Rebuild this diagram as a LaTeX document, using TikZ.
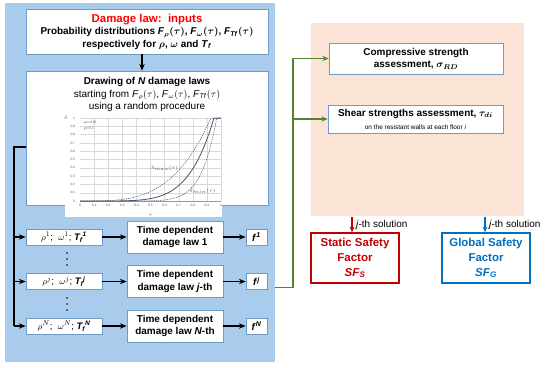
\documentclass[tikz,border=0pt]{standalone}
\usepackage{fontspec}
\setmainfont{Liberation Sans}
\usetikzlibrary{arrows.meta,calc}
\definecolor{FlowPanel}{HTML}{A9CBEC}
\definecolor{FlowPeach}{HTML}{FBE3D6}
\definecolor{FlowEdge}{HTML}{6F9CC6}
\definecolor{FlowGreen}{HTML}{548235}
\definecolor{FlowRed}{HTML}{C00000}
\definecolor{FlowTitle}{HTML}{FF0000}
\definecolor{FlowBlue}{HTML}{0070C0}
\definecolor{FlowGrid}{HTML}{D9D9D9}
\definecolor{FlowCurve}{HTML}{44546A}
\definecolor{FlowMuted}{HTML}{595959}
\tikzset{
  every node/.style={text=black},
  box/.style={draw=FlowEdge, line width=0.6pt, fill=white, align=center, inner sep=1pt, font=\fontsize{10}{12.5}\selectfont\bfseries\boldmath},
  panel/.style={draw=none, inner sep=0pt},
  flow/.style={-{Stealth[length=2.4mm,width=1.9mm]}, draw=black, line width=1.3pt},
  bus/.style={draw=black, line width=1.3pt},
  feed/.style={-{Stealth[length=2.2mm,width=1.8mm]}, draw=FlowGreen, line width=1.2pt},
  result/.style={line width=1.5pt, fill=white, align=center, minimum width=88bp, minimum height=50bp, font=\fontsize{11.5}{15}\selectfont\bfseries},
  pick/.style={-{Stealth[length=2mm,width=1.7mm]}, line width=1.4pt},
  note/.style={anchor=west, inner sep=0pt, font=\fontsize{10}{12}\selectfont},
  tick/.style={font=\fontsize{3.3}{4}\selectfont, text=FlowMuted, inner sep=0.5pt},
  curvelbl/.style={font=\fontsize{4.5}{5}\selectfont, text=FlowCurve, inner sep=0.5pt},
}

\begin{document}
\begin{tikzpicture}[x=1bp, y=-1bp]
  \useasboundingbox (0,0) rectangle (550,367);
  % Background panels
  \node[panel, fill=FlowPanel, minimum width=270bp, minimum height=359bp] (leftPanel) at (140,182.5) {};
  \node[panel, fill=FlowPeach, minimum width=213bp, minimum height=193bp] (peachPanel) at (417.5,119.5) {};
  % Inputs box
  \node[box, minimum width=242bp, minimum height=45bp] (inputs) at (147,31.5)
    {{\color{FlowTitle}\fontsize{11.5}{13}\selectfont Damage law:\ \ inputs}\\
     Probability distributions \textit{F}$_{\rho}(\tau)$, \textit{F}$_{\omega}(\tau)$, \textit{F}\textsubscript{\textit{Tf}}$(\tau)$\\
     respectively for $\rho$, $\omega$ and \textit{T}\textsubscript{\textit{f}}};
  % Drawing of the damage laws
  \node[box, minimum width=242bp, minimum height=134bp] (laws) at (147,138) {};
  \node[align=center, font=\fontsize{10}{12.5}\selectfont] (lawsText) at (147,94.5)
    {\textbf{Drawing of \textit{N} damage laws}\\
     starting from \textit{F}$_{\rho}(\tau)$, \textit{F}$_{\omega}(\tau)$, \textit{F}\textsubscript{\textit{Tf}}$(\tau)$\\
     using a random procedure};
  \draw[flow] ([xshift=-5bp]inputs.south) -- ([xshift=-5bp]laws.north);
  % Damage law plot
  \fill[white] (65,113) rectangle (222,217);
  \begin{scope}[shift={(80,201)}, x=141bp, y=83bp]
    \foreach \k in {1,...,10} {
      \draw[FlowGrid, line width=0.3pt] (\k/10,0) -- (\k/10,1);
      \draw[FlowGrid, line width=0.3pt] (0,\k/10) -- (1,\k/10);
    }
    \draw[FlowGrid!70!black, line width=0.4pt] (0,0) -- (1,0);
    \foreach \v/\t in {0/0, 0.1/0.1, 0.2/0.2, 0.3/0.3, 0.4/0.4, 0.5/0.5, 0.6/0.6, 0.7/0.7, 0.8/0.8, 0.9/0.9, 1/1} {
      \node[tick, below] (xt\t) at (\v,-0.03) {\t};
      \node[tick, left] (yt\t) at (-0.03,\v) {\t};
    }
    \node[tick, font=\fontsize{5}{6}\selectfont] (tauLbl) at (0.5,-0.17) {$\tau$};
    \node[tick, font=\fontsize{5}{6}\selectfont] (deltaLbl) at (-0.1,1) {$\delta$};
    \node[tick, anchor=west] (omegaLbl) at (0.02,0.95) {$\omega$=0.93};
    \node[tick, anchor=west] (rhoLbl) at (0.02,0.87) {$\rho$=5.5};
    % Mean law and bounds
    \draw[FlowCurve, line width=0.8pt] (0,0) -- plot[domain=0.05:0.95, samples=50] (\x,{(\x/0.95)^5.5}) -- (1,1);
    \draw[FlowCurve, line width=0.5pt, dash pattern=on 1.3pt off 1pt] (0,0) -- plot[domain=0.05:0.93, samples=50] (\x,{(\x/0.93)^3.5}) -- (1,1);
    \draw[FlowCurve, line width=0.5pt, dash pattern=on 1.3pt off 1pt] (0,0) -- plot[domain=0.05:0.97, samples=50] (\x,{(\x/0.97)^9}) -- (1,1);
    \node[curvelbl] (maxLbl) at (0.6,0.4) {$\delta_{max}(\tau)$};
    \node[curvelbl] (minLbl) at (0.87,0.12) {$\delta_{min}(\tau)$};
  \end{scope}
  % Rows of sampled parameters
  \foreach \y/\ix/\nm/\lbl in {237/1/1/1, 281.5/j/j/\textit{j}-th, 326/N/N/\textit{N}-th} {
    \node[box, minimum width=76bp, minimum height=16bp, font=\fontsize{9.5}{11}\selectfont] (rho\nm) at (64,\y)
      {$\rho^{\ix}$;\ \ $\omega^{\ix}$; \textbf{\textit{T\textsubscript{f}\textsuperscript{\ix}}}};
    \node[box, minimum width=96bp, minimum height=32bp] (law\nm) at (175,\y) {Time dependent\\ damage law \lbl};
    \node[box, minimum width=21bp, minimum height=16bp] (f\nm) at (256.5,\y) {\textit{f}\textsuperscript{\textit{\ix}}};
    \draw[flow] (rho\nm) -- (law\nm);
    \draw[flow] (law\nm) -- (f\nm);
  }
  % Left bus feeding the rows
  \coordinate (busTop) at (14,147);
  \draw[bus] (laws.west |- busTop) -- (busTop) -- (busTop |- rhoN);
  \foreach \nm in {1,j,N}
    \draw[flow] (busTop |- rho\nm) -- (rho\nm);
  % Vertical dots
  \foreach \y in {253,259,265,298,304,310}
    \fill (67,\y) circle (0.9);
  % Strength assessments
  \node[box, minimum width=174bp, minimum height=31bp] (comp) at (416,58.5)
    {Compressive strength\\ assessment, $\sigma_{RD}$};
  \node[box, minimum width=175bp, minimum height=28bp, font=\fontsize{10}{13}\selectfont\bfseries\boldmath] (shear) at (415.5,119)
    {Shear strengths assessment, $\tau_{di}$\\
     {\fontsize{6.5}{8}\selectfont\mdseries\unboldmath on the resistant walls at each floor \textit{i}}};
  \coordinate (feedOut) at ($(leftPanel.east |- fj)+(0,6)$);
  \coordinate (feedBus) at (293,58.5);
  \draw[feed] (feedOut) -| (feedBus) -- (comp.west);
  \draw[feed] (feedBus |- shear) -- (shear.west);
  % Safety factors
  \node[result, draw=FlowRed, text=FlowRed] (sfs) at (355,258) {Static Safety\\ Factor\\ \textit{SF}\textsubscript{\textit{S}}};
  \node[result, draw=FlowBlue, text=FlowBlue] (sfg) at (486,258) {Global Safety\\ Factor\\ \textit{SF}\textsubscript{\textit{G}}};
  \coordinate (sfsIn) at (352,217);
  \coordinate (sfgIn) at (485,217);
  \draw[pick, FlowRed] (sfsIn) -- (sfsIn |- sfs.north);
  \draw[pick, FlowBlue] (sfgIn) -- (sfgIn |- sfg.north);
  \node[note] (sfsNote) at (356,224.5) {\textit{j}-th solution};
  \node[note] (sfgNote) at (489,224.5) {\textit{j}-th solution};
\end{tikzpicture}
\end{document}
